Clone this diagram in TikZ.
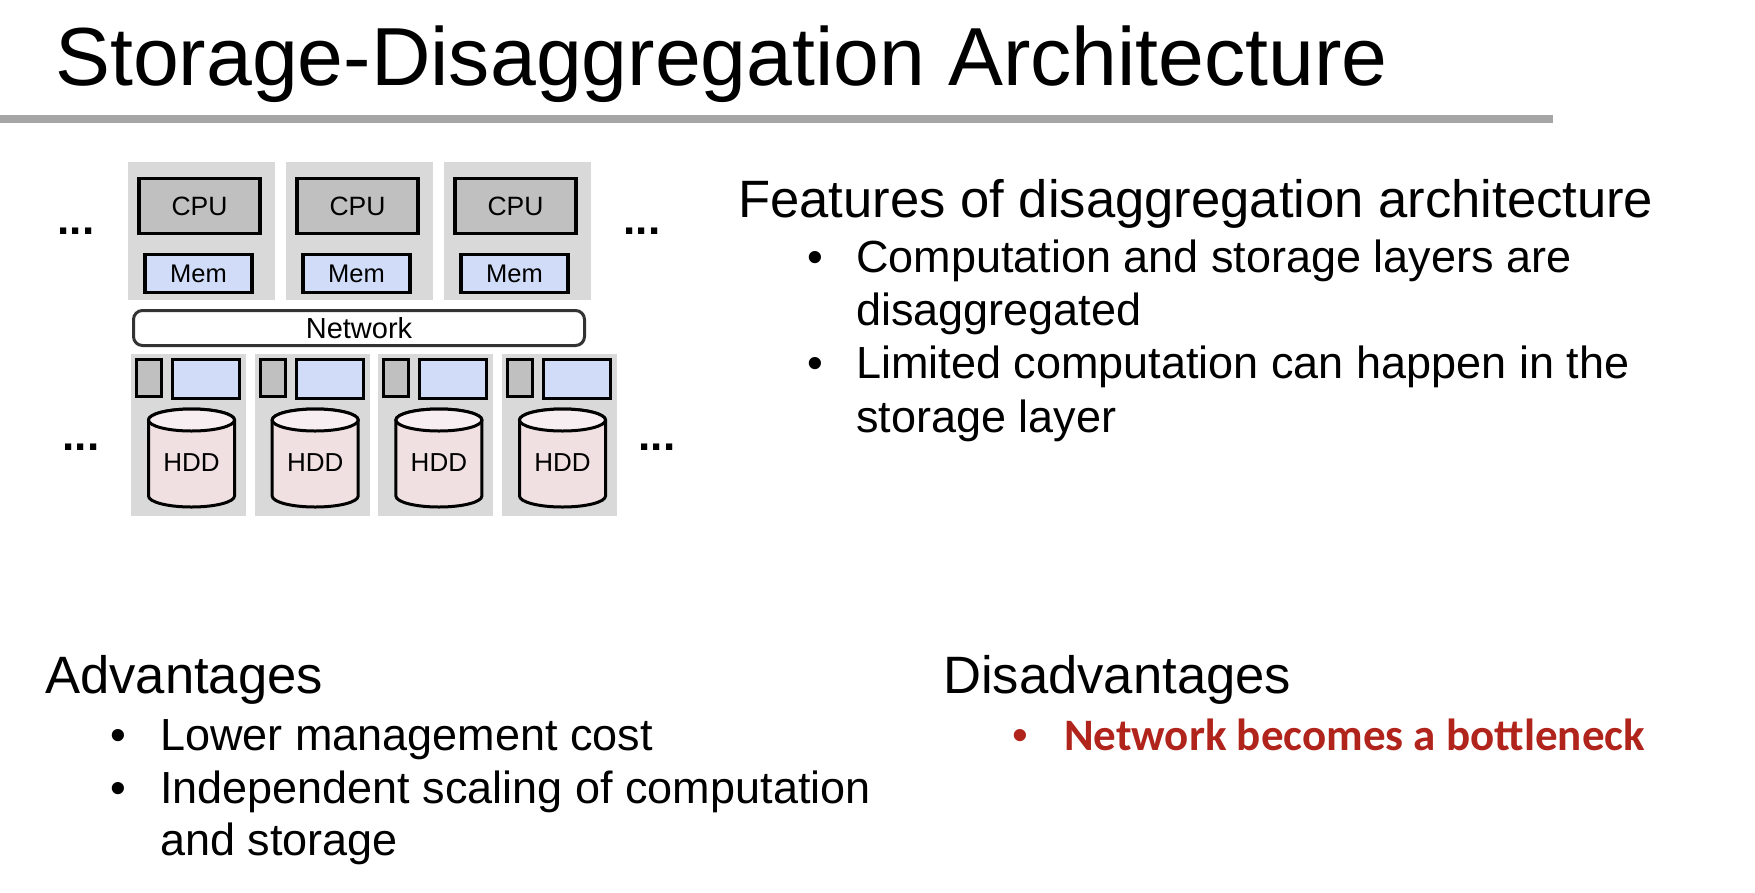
\documentclass[tikz,border=0pt]{standalone}
\usepackage{fontspec}
\setmainfont{Liberation Sans}
\newfontfamily\carlito{Carlito}
\definecolor{boxgray}{HTML}{D9D9D9}
\definecolor{cpugray}{HTML}{C0C0C0}
\definecolor{memblue}{HTML}{D0DCF8}
\definecolor{hddpink}{HTML}{F0E0E2}
\definecolor{hddtop}{HTML}{F6EEF0}
\definecolor{rulegray}{HTML}{A6A6A6}
\definecolor{netborder}{HTML}{333333}
\definecolor{darkred}{HTML}{B0241C}
\newcommand{\fs}[1]{\fontsize{#1}{#1}\selectfont}
\begin{document}
\begin{tikzpicture}[x=1pt,y=-1pt,
  bgunit/.style={rectangle, fill=boxgray, draw=none, inner sep=0},
  cpubox/.style={rectangle, draw=black, line width=3.2pt, fill=cpugray, inner sep=0, minimum width=121, minimum height=55, font=\fs{26.5}},
  membox/.style={rectangle, draw=black, line width=3.2pt, fill=memblue, inner sep=0, minimum width=107, minimum height=38, font=\fs{25.5}},
  smallgray/.style={rectangle, draw=black, line width=3pt, fill=cpugray, inner sep=0, minimum width=25, minimum height=37},
  smallblue/.style={rectangle, draw=black, line width=3pt, fill=memblue, inner sep=0, minimum width=67, minimum height=39},
  netbox/.style={rectangle, rounded corners=9pt, draw=netborder, line width=3pt, fill=white, inner sep=0, minimum width=451, minimum height=35, font=\fs{29}},
  cyl/.style={draw=black, line width=3pt},
  dots/.style={inner sep=0, font=\bfseries\fs{44}},
  txt/.style={inner sep=0, anchor=base west},
  bul/.style={inner sep=0, anchor=base},
  head/.style={txt, font=\fs{52.6}},
  item/.style={txt, font=\fs{45}},
  bulitem/.style={bul, font=\fs{45}}
]
\useasboundingbox (0,0) rectangle (1755,892);

% title and rule
\node[txt, font=\fs{82.4}] (title) at (55,85) {Storage-Disaggregation Architecture};
\fill[rulegray] (0,115) rectangle (1553,123);

% compute layer
\foreach \i/\xl in {1/128, 2/286, 3/444} {
  \node[bgunit, minimum width=147, minimum height=138] (cbg\i) at (\xl+73.5,231) {};
  \node[cpubox] (cpu\i) at (\xl+71.5,206) {CPU};
  \node[membox] (mem\i) at (\xl+70.5,273.5) {Mem};
}
\node[dots] (dotsTL) at (76,231) {...};
\node[dots] (dotsTR) at (642,231) {...};

% network
\node[netbox] (net) at (359,328) {Network};

% storage layer
\foreach \i/\xl in {1/131, 2/254.7, 3/378.4, 4/502} {
  \node[bgunit, minimum width=115, minimum height=162] (sbg\i) at (\xl+57.5,435) {};
  \node[smallgray] (sg\i) at (\xl+18,378) {};
  \node[smallblue] (sb\i) at (\xl+75,379) {};
  \filldraw[cyl, fill=hddpink] (\xl+17.5,420) -- (\xl+17.5,496) arc (180:0:43 and 11) -- (\xl+103.5,420) arc (0:-180:43 and 11) -- cycle;
  \filldraw[cyl, fill=hddtop] (\xl+60.5,420) ellipse (43 and 11);
  \node[inner sep=0, font=\fs{26}] (hdd\i) at (\xl+60.5,463) {HDD};
}
\node[dots] (dotsBL) at (81,447) {...};
\node[dots] (dotsBR) at (657,447) {...};

% features
\node[head] (feat) at (738,217) {Features of disaggregation architecture};
\node[bulitem] (fb1) at (815,272) {\textbullet};
\node[item] (f1a) at (856,272) {Computation and storage layers are};
\node[item] (f1b) at (856,325) {disaggregated};
\node[bulitem] (fb2) at (815,378) {\textbullet};
\node[item] (f2a) at (856,378) {Limited computation can happen in the};
\node[item] (f2b) at (856,432) {storage layer};

% advantages
\node[head] (adv) at (45,693) {Advantages};
\node[bulitem] (ab1) at (118,750) {\textbullet};
\node[item] (a1) at (160,750) {Lower management cost};
\node[bulitem] (ab2) at (118,803) {\textbullet};
\node[item] (a2a) at (160,803) {Independent scaling of computation};
\node[item] (a2b) at (160,855) {and storage};

% disadvantages
\node[head] (dis) at (943,693) {Disadvantages};
\node[bulitem, text=darkred] (db1) at (1020,750) {\textbullet};
\node[txt, font=\carlito\bfseries\fs{45}, text=darkred] (d1) at (1064,750) {Network becomes a bottleneck};
\end{tikzpicture}
\end{document}
